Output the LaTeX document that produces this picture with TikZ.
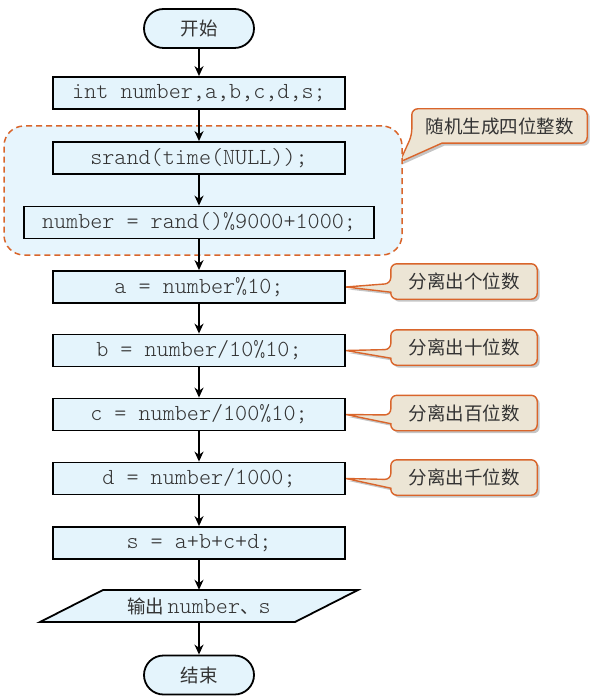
\documentclass[tikz,border=0pt]{standalone}
\usepackage{fontspec}
\setmonofont{lmmonolt10-regular.otf}
\newfontfamily\cjk{Noto Sans CJK SC}
\usetikzlibrary{shadows,arrows.meta,calc,backgrounds}
\definecolor{boxfill}{HTML}{E4F4FC}
\definecolor{grpfill}{HTML}{E7F5FD}
\definecolor{orng}{HTML}{D9652B}
\definecolor{calfill}{HTML}{ECE5D5}
\definecolor{txt}{HTML}{333333}
\newcommand\calloutL[2]{%
  \draw[cshape] ($(#1.south west)+(0,-7)$) [rounded corners=6pt] -- (#1.south west) -- (#1.south east) -- (#1.north east) -- (#1.north west) -- ($(#1.west)+(0,2)$) [sharp corners] -- (#2) -- cycle;}
\newcommand\codefont{\ttfamily\fontsize{23}{23}\selectfont}
\newcommand\cjkfont{\cjk\fontsize{18.5}{18.5}\selectfont}
\begin{document}
\begin{tikzpicture}[x=1pt,y=-1pt,
  proc/.style={draw=black, line width=1.8pt, fill=boxfill, minimum height=32pt, minimum width=292pt, inner sep=0pt, font=\codefont, text=txt},
  term/.style={draw=black, line width=1.8pt, fill=boxfill, rounded corners=19.5pt, minimum height=39pt, minimum width=110pt, inner sep=0pt, font=\cjkfont, text=txt},
  arr/.style={line width=1.8pt, -{Stealth[length=10pt,width=9pt]}},
  grp/.style={draw=orng, line width=1.5pt, dash pattern=on 6pt off 4pt, fill=grpfill, rounded corners=20pt, inner sep=0pt},
  ctext/.style={font=\cjkfont, text=txt, minimum height=35pt, inner sep=0pt},
  cshape/.style={draw=orng, line width=1.4pt, fill=calfill, drop shadow={shadow xshift=2.5pt, shadow yshift=-2.5pt, fill=black!45, opacity=0.5}},
  para/.style={draw=black, line width=1.8pt, fill=boxfill},
]
\useasboundingbox (0,0) rectangle (600,700);

% group
\node[grp, minimum width=398pt, minimum height=129pt] (grp) at (203,190.5) {};

% main flow
\node[term] (start) at (199,28.5) {开始};
\node[proc] (init) at (199,93) {int number,a,b,c,d,s;};
\node[proc] (srand) at (199,158) {srand(time(NULL));};
\node[proc, minimum width=350pt] (num) at (199,222.5) {number = rand()\%9000+1000;};
\node[proc] (a) at (199,287) {a = number\%10;};
\node[proc] (b) at (199,350.5) {b = number/10\%10;};
\node[proc] (c) at (199,414.5) {c = number/100\%10;};
\node[proc] (d) at (199,478.5) {d = number/1000;};
\node[proc] (s) at (199,543) {s = a+b+c+d;};
\coordinate (pc) at (199,606);
\draw[para] ($(pc)+(-96,-16)$) -- ++(255,0) -- ++(-63,32) -- ++(-255,0) -- cycle;
\node[minimum height=32pt, inner sep=0pt, text=txt] (out) at (pc) {{\cjkfont 输出} {\codefont number}{\cjkfont 、}{\codefont s}};
\node[term] (end) at (199,675) {结束};

% arrows
\draw[arr] (start.south) -- (start.south |- init.north);
\draw[arr] (init.south) -- (init.south |- srand.north);
\draw[arr] (srand.south) -- (srand.south |- num.north);
\draw[arr] (num.south) -- (num.south |- a.north);
\draw[arr] (a.south) -- (a.south |- b.north);
\draw[arr] (b.south) -- (b.south |- c.north);
\draw[arr] (c.south) -- (c.south |- d.north);
\draw[arr] (d.south) -- (d.south |- s.north);
\draw[arr] (s.south) -- (s.south |- out.north);
\draw[arr] (out.south) -- (out.south |- end.north);

% callouts
\node[ctext, minimum width=175pt, minimum height=34pt] (c0) at (499.5,126) {随机生成四位整数};
\node[ctext, minimum width=146pt] (ca) at (464,281.5) {分离出个位数};
\node[ctext, minimum width=146pt] (cb) at (464,347.5) {分离出十位数};
\node[ctext, minimum width=146pt] (cc) at (464,413) {分离出百位数};
\node[ctext, minimum width=146pt] (cd) at (464,477.5) {分离出千位数};
\coordinate (t0) at ($(grp.east)+(-3,-28.5)$);
\begin{scope}[on background layer]
  \draw[cshape] ($(c0.south west)+(30,0)$) [rounded corners=6pt] -- (c0.south east) -- (c0.north east) -- (c0.north west) -- ($(c0.south west)+(0,-8)$) [sharp corners] -- (t0) -- cycle;
  \calloutL{ca}{a.east}
  \calloutL{cb}{b.east}
  \calloutL{cc}{c.east}
  \calloutL{cd}{d.east}
\end{scope}
\end{tikzpicture}
\end{document}
